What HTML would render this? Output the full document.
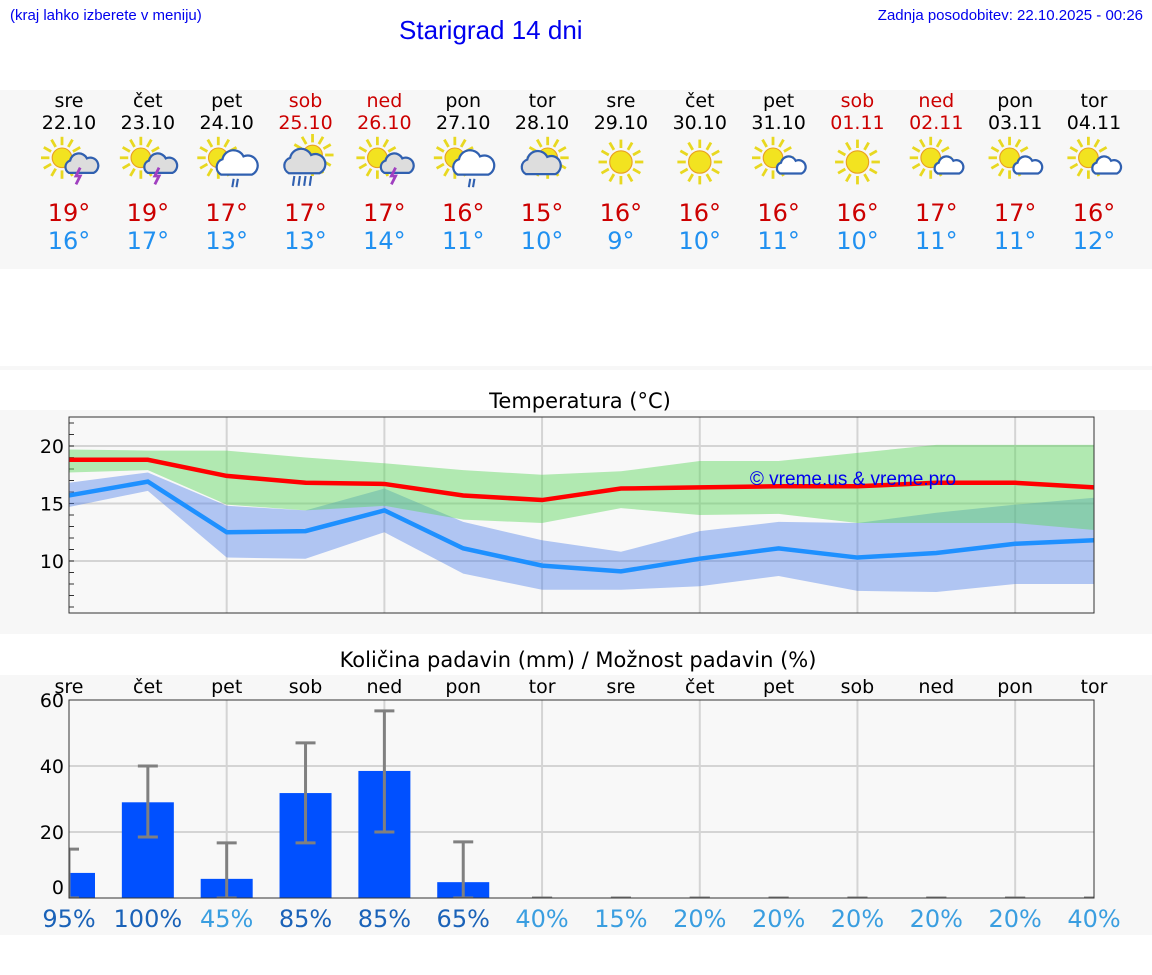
<!DOCTYPE html>
<html><head><meta charset="utf-8">
<style>
body{margin:0;width:1152px;height:975px;background:#fff;font-family:"DejaVu Sans","Liberation Sans",sans-serif;overflow:hidden;position:relative}
.abs{position:absolute}
</style></head>
<body>
<div class="abs" style="left:10px;top:7px;font:15px 'Liberation Sans',sans-serif;color:#0000ee">(kraj lahko izberete v meniju)</div>
<div class="abs" style="left:399px;top:15px;font:26px 'Liberation Sans',sans-serif;color:#0000ee">Starigrad 14 dni</div>
<div class="abs" style="right:9px;top:7px;font:15px 'Liberation Sans',sans-serif;color:#0000ee">Zadnja posodobitev: 22.10.2025 - 00:26</div>
<svg id="chart" class="abs" style="left:0;top:0" width="1152" height="975"></svg>
<script>
const days=["sre","čet","pet","sob","ned","pon","tor","sre","čet","pet","sob","ned","pon","tor"];
const dates=["22.10","23.10","24.10","25.10","26.10","27.10","28.10","29.10","30.10","31.10","01.11","02.11","03.11","04.11"];
const weekend=[0,0,0,1,1,0,0,0,0,0,1,1,0,0];
const icons=["storm","storm","rain","heavy","storm","rain","cloudy","sun","sun","partly","sun","partly","partly","partly"];
const hiTemps=[19,19,17,17,17,16,15,16,16,16,16,17,17,16];
const loTemps=[16,17,13,13,14,11,10,9,10,11,10,11,11,12];
const maxLine=[18.8,18.8,17.4,16.8,16.7,15.7,15.3,16.3,16.4,16.5,16.5,16.8,16.8,16.4];
const maxUpper=[19.7,19.6,19.6,19.0,18.5,17.9,17.5,17.8,18.7,18.7,19.4,20.1,20.1,20.1];
const maxLower=[17.7,17.9,14.9,14.4,14.8,13.6,13.3,14.6,14.0,14.1,13.3,13.3,13.3,12.7];
const minLine=[15.7,16.9,12.5,12.6,14.4,11.1,9.6,9.1,10.2,11.1,10.3,10.7,11.5,11.8];
const minUpper=[16.8,17.7,14.8,14.4,16.3,13.4,11.8,10.8,12.6,13.4,13.3,14.2,14.9,15.5];
const minLower=[14.7,16.1,10.3,10.2,12.5,8.9,7.5,7.5,7.8,8.7,7.4,7.3,8.0,8.0];
const tempTicks=[10,15,20];
const precip=[7.6,29,5.8,31.8,38.5,4.8,0,0,0,0,0,0,0,0];
const errHi=[14.8,40,16.7,47,56.7,17,0,0,0,0,0,0,0,0];
const errLo=[0,18.5,0,16.7,20,0,0,0,0,0,0,0,0,0];
const probs=[95,100,45,85,85,65,40,15,20,20,20,20,20,40];
const precipTicks=[0,20,40,60];

const NS="http://www.w3.org/2000/svg";
const svg=document.getElementById('chart');
function el(tag,attrs,parent){const e=document.createElementNS(NS,tag);for(const k in attrs)e.setAttribute(k,attrs[k]);(parent||svg).appendChild(e);return e;}
function txt(x,y,s,attrs,parent){const t=el('text',Object.assign({x:x,y:y,'text-anchor':'middle','font-family':'DejaVu Sans, Liberation Sans, sans-serif'},attrs),parent);t.textContent=s;return t;}
const X0=69,X1=1094;
const xd=i=>X0+(X1-X0)*i/13;
el('rect',{x:0,y:90,width:1152,height:179,fill:'#f7f7f7'});
el('rect',{x:0,y:366,width:1152,height:4,fill:'#f7f7f7'});
el('rect',{x:0,y:410,width:1152,height:224,fill:'#f7f7f7'});
el('rect',{x:0,y:675,width:1152,height:260,fill:'#f7f7f7'});

function icon(parent,type,cx,cy){
  const g=el('g',{transform:`translate(${cx} ${cy}) scale(1.4) translate(${-cx} ${-cy})`},parent);
  const sun=(sx,sy,r)=>{for(let a=0;a<12;a++){const an=a*Math.PI/6;el('line',{x1:sx+Math.cos(an)*(r+2),y1:sy+Math.sin(an)*(r+2),x2:sx+Math.cos(an)*(r+8),y2:sy+Math.sin(an)*(r+8),stroke:'#e8d820','stroke-width':2},g);}
    el('circle',{cx:sx,cy:sy,r:r,fill:'#f2e320',stroke:'#e8a020','stroke-width':0.8},g);};
  const cloud=(x,y,s,fill)=>{el('path',{d:`M${x-10*s} ${y+6*s} a${6*s} ${6*s} 0 0 1 ${1*s} ${-11*s} a${8*s} ${8*s} 0 0 1 ${15*s} ${-2*s} a${6*s} ${6*s} 0 0 1 ${6*s} ${13*s} z`,fill:fill,stroke:'#3060b0','stroke-width':1.6},g);};
  if(type==='sun'){sun(cx,cy,8);}
  else if(type==='partly'){sun(cx-4,cy-3,7);cloud(cx+8,cy+4,0.7,'#fff');}
  else if(type==='storm'){sun(cx-5,cy-3,7);cloud(cx+8,cy+3,0.8,'#ddd');el('path',{d:`M${cx+8} ${cy+4} l-3 6 l3 0 l-3 6`,stroke:'#a040c0','stroke-width':2,fill:'none'},g);}
  else if(type==='rain'){sun(cx-6,cy-3,7);cloud(cx+6,cy+3,1.0,'#fff');el('path',{d:`M${cx+5} ${cy+12} l-1 6 M${cx+8} ${cy+12} l-1 6`,stroke:'#3060b0','stroke-width':1.5},g);}
  else if(type==='heavy'){sun(cx+5,cy-5,7);cloud(cx-2,cy+2,1.0,'#ddd');el('path',{d:`M${cx-8} ${cy+10} l-1 7 M${cx-4} ${cy+10} l-1 7 M${cx} ${cy+10} l-1 7 M${cx+4} ${cy+10} l-1 7`,stroke:'#3060b0','stroke-width':1.5},g);}
  else if(type==='cloudy'){sun(cx+4,cy-3,7);cloud(cx-2,cy+3,0.95,'#ddd');}
}
for(let i=0;i<14;i++){
  const x=xd(i);
  const c=weekend[i]?'#cc0000':'#000';
  const g=el('g',{});
  
  
  txt(x,107,days[i],{'font-size':19,fill:c},g);
  txt(x,129,dates[i],{'font-size':19,fill:c},g);
  icon(g,icons[i],x,162);
  txt(x,221,hiTemps[i]+'°',{'font-size':24,fill:'#cc0000'},g);
  txt(x,249,loTemps[i]+'°',{'font-size':24,fill:'#2090f0'},g);
}

const TY0=417,TY1=613;
const ty=v=>446+(20-v)*11.5;
txt(580,408,'Temperatura (°C)',{'font-size':21,fill:'#000'});
el('rect',{x:X0,y:TY0,width:X1-X0,height:TY1-TY0,fill:'#f8f8f8'});
tempTicks.forEach(v=>{el('line',{x1:X0,x2:X1,y1:ty(v),y2:ty(v),stroke:'#d4d4d4','stroke-width':2});txt(64,ty(v)+7,String(v),{'font-size':19,'text-anchor':'end'});});
for(let v=6;v<=22;v++){el('line',{x1:X0,x2:X0+5,y1:ty(v),y2:ty(v),stroke:'#333','stroke-width':1});}
for(let i=2;i<13;i+=2)el('line',{x1:xd(i),x2:xd(i),y1:TY0,y2:TY1,stroke:'#d4d4d4','stroke-width':2});
function band(up,lo,fill,name){let d='';up.forEach((v,i)=>d+=(i?'L':'M')+xd(i)+' '+ty(v));for(let i=lo.length-1;i>=0;i--)d+='L'+xd(i)+' '+ty(lo[i]);const p=el('path',{d:d+'Z',fill:fill});}
band(minUpper,minLower,'rgba(80,130,235,0.43)','min-temp-range');
band(maxUpper,maxLower,'rgba(90,215,90,0.45)','max-temp-range');
function line(vals,col,name){const p=el('polyline',{points:vals.map((v,i)=>xd(i)+','+ty(v)).join(' '),fill:'none',stroke:col,'stroke-width':4.5});}
line(maxLine,'#ff0000','max-temp-line');
line(minLine,'#1e90ff','min-temp-line');
txt(853,485,'© vreme.us & vreme.pro',{'font-size':19,fill:'#0000ee','font-family':'Liberation Sans, sans-serif'});
el('rect',{x:X0,y:TY0,width:X1-X0,height:TY1-TY0,fill:'none',stroke:'#333','stroke-width':1});

const PY0=700,PY1=898;
const py=v=>PY1-v*(PY1-PY0)/60;
txt(578,667,'Količina padavin (mm) / Možnost padavin (%)',{'font-size':21,fill:'#000'});
el('rect',{x:X0,y:PY0,width:X1-X0,height:PY1-PY0,fill:'#f8f8f8'});
[20,40].forEach(v=>el('line',{x1:X0,x2:X1,y1:py(v),y2:py(v),stroke:'#d4d4d4','stroke-width':2}));
for(let i=2;i<13;i+=2)el('line',{x1:xd(i),x2:xd(i),y1:PY0,y2:PY1,stroke:'#d4d4d4','stroke-width':2});
precipTicks.forEach(v=>txt(64,(v===0?py(v)-4:py(v)+7),String(v),{'font-size':19,'text-anchor':'end'}));
days.forEach((d,i)=>txt(xd(i),693,d,{'font-size':19}));
const clip=el('clipPath',{id:'pc'});
el('rect',{x:X0,y:PY0,width:X1-X0,height:PY1-PY0},clip);
const pg=el('g',{'clip-path':'url(#pc)'});
precip.forEach((v,i)=>{
  if(v>0){const r=el('rect',{x:xd(i)-26,y:py(v),width:52,height:PY1-py(v),fill:'#0050ff'},pg);
  
  }
  const e=el('g',{stroke:'#808080','stroke-width':3},pg);
  
  
  el('line',{x1:xd(i),x2:xd(i),y1:py(errHi[i]),y2:py(errLo[i])},e);
  el('line',{x1:xd(i)-10,x2:xd(i)+10,y1:py(errHi[i]),y2:py(errHi[i])},e);
  el('line',{x1:xd(i)-10,x2:xd(i)+10,y1:py(errLo[i]),y2:py(errLo[i])},e);
});
el('rect',{x:X0,y:PY0,width:X1-X0,height:PY1-PY0,fill:'none',stroke:'#333','stroke-width':1});
probs.forEach((p,i)=>{const t=txt(xd(i),927,p+'%',{'font-size':24,fill:p>=60?'#1a62b8':'#3a9ee0'});
  
  });
</script>
</body></html>
